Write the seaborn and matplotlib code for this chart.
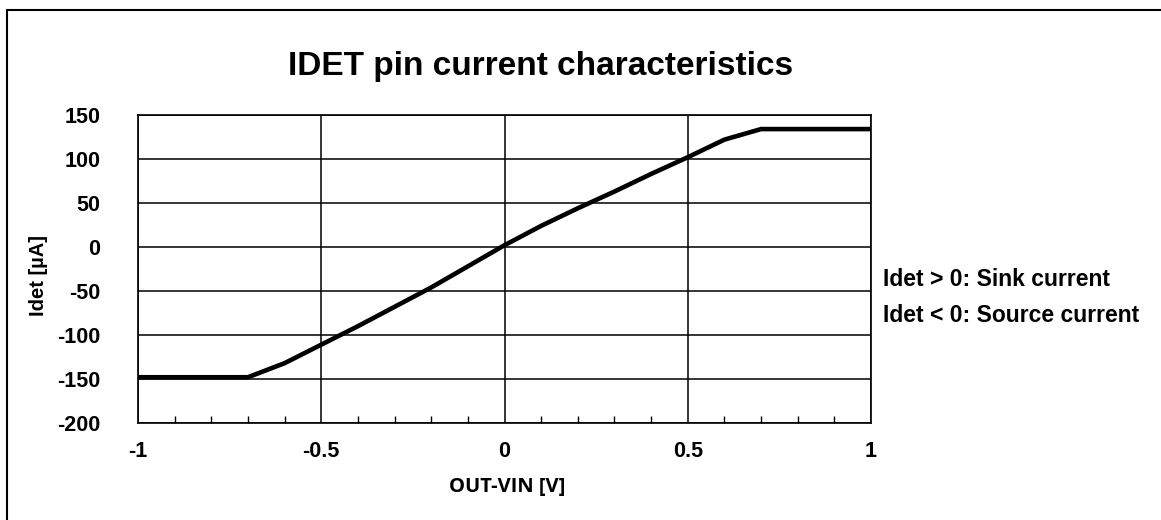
import matplotlib
matplotlib.use("Agg")
import matplotlib.pyplot as plt
import numpy as np
import pandas as pd
import seaborn as sns
from matplotlib.patches import Rectangle
from matplotlib.ticker import MultipleLocator

# values
out_vin = [-1.0, -0.9, -0.8, -0.7, -0.6, -0.5, -0.4, -0.3, -0.2, -0.1, 0.0,
           0.1, 0.2, 0.3, 0.4, 0.5, 0.6, 0.7, 0.8, 0.9, 1.0]
idet = [-148, -148, -148, -148, -132, -111, -90, -68, -46, -22, 2,
        24, 44, 63, 83, 102, 122, 134, 134, 134, 134]

y_ticks = [-200, -150, -100, -50, 0, 50, 100, 150]
x_ticks = [-1, -0.5, 0, 0.5, 1]
x_tick_labels = ["-1", "-0.5", "0", "0.5", "1"]

TITLE = "IDET pin current characteristics"
NOTES = ["Idet > 0: Sink current", "Idet < 0: Source current"]

sns.set_theme(style="white")
plt.rcParams["font.family"] = ["Liberation Sans", "DejaVu Sans"]
plt.rcParams["axes.unicode_minus"] = False
plt.rcParams["text.color"] = "black"
plt.rcParams["xtick.color"] = "black"
plt.rcParams["ytick.color"] = "black"

W, H = 1161, 520
fig = plt.figure(figsize=(W / 100, H / 100), dpi=100)
ax = fig.add_axes([138 / W, 1 - 423 / H, (871 - 138) / W, (423 - 115) / H])

df = pd.DataFrame({"x": out_vin, "y": idet})
sns.lineplot(data=df, x="x", y="y", ax=ax, color="black", lw=3.3, zorder=3)

ax.set_xlim(-1, 1)
ax.set_ylim(-200, 150)
ax.set_xticks(x_ticks)
ax.set_xticklabels(x_tick_labels)
ax.set_yticks(y_ticks)
ax.set_yticklabels([str(v) for v in y_ticks])
ax.xaxis.set_minor_locator(MultipleLocator(0.1))
ax.grid(True, which="major", color="black", lw=1.1)
ax.tick_params(axis="x", which="minor", direction="in", length=5, width=1.0,
               color="black", bottom=True, top=False)
ax.tick_params(axis="x", which="major", direction="in", length=0, pad=13,
               labelsize=15.5)
ax.tick_params(axis="y", which="major", length=0, pad=27, labelsize=15.5)
for lbl in ax.get_xticklabels() + ax.get_yticklabels():
    lbl.set_fontweight("bold")
for s in ax.spines.values():
    s.set_color("black")
    s.set_linewidth(1.2)

ax.set_xlabel("")
ax.set_ylabel("")
fig.text(507 / W, 1 - 487 / H, "OUT-VIN [V]", ha="center", va="center",
         fontsize=14.5, fontweight="bold", family=["Open Sans", "DejaVu Sans"])
fig.text(38 / W, 1 - 275 / H, "Idet [µA]", ha="center", va="center",
         rotation=90, fontsize=14.5, fontweight="bold")

fig.text(541 / W, 1 - 66 / H, TITLE, ha="center", va="center",
         fontsize=24, fontweight="bold")

for i, note in enumerate(NOTES):
    fig.text(883 / W, 1 - (280 + 35 * i) / H, note, ha="left", va="center",
             fontsize=16.5, fontweight="bold")

# outer chart-area frame (left and top edges visible)
fig.patches.append(Rectangle((7 / W, -0.1), 1.2, 1.1 - 10 / H,
                             transform=fig.transFigure, fill=False,
                             edgecolor="black", lw=1.5))

fig.savefig("out.png", dpi=100)
